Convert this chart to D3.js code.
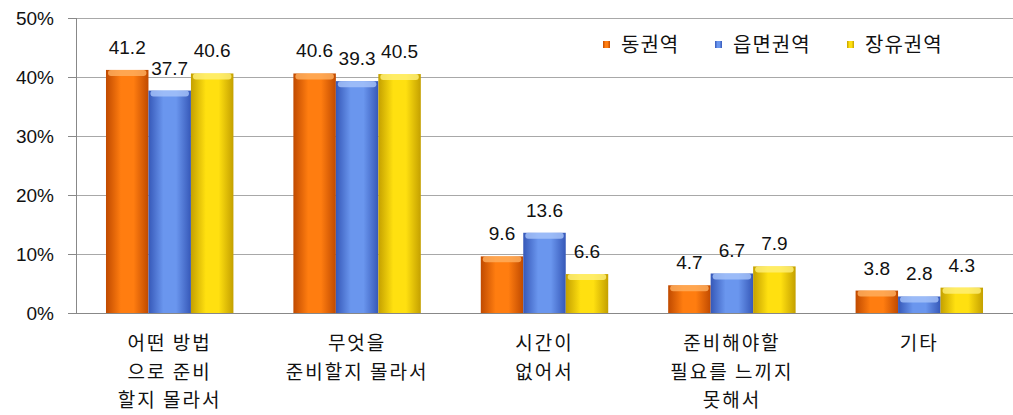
<!DOCTYPE html>
<html>
<head>
<meta charset="utf-8">
<style>
    body { margin: 0; background: #fff; }
    svg text { font-family: "Noto Sans CJK KR", sans-serif; fill: #111; }
    .axis path, .axis line { fill: none; stroke: #888; shape-rendering: crispEdges; }
    .grid line { stroke: #a8a8a8; shape-rendering: crispEdges; }
</style>
</head>
<body>
<div id="chart"></div>
<script src="https://cdn.jsdelivr.net/npm/d3@7"></script>
<script>
var categories = [
    ["어떤 방법", "으로 준비", "할지 몰라서"],
    ["무엇을", "준비할지 몰라서"],
    ["시간이", "없어서"],
    ["준비해야할", "필요를 느끼지", "못해서"],
    ["기타"]
];
var seriesNames = ["동권역", "읍면권역", "장유권역"];
var dong   = [41.2, 40.6, 9.6, 4.7, 3.8];
var eupmyeon = [37.7, 39.3, 13.6, 6.7, 2.8];
var jangyu = [40.6, 40.5, 6.6, 7.9, 4.3];
var yTicks = [0, 10, 20, 30, 40, 50];

var seriesValues = [dong, eupmyeon, jangyu];
var colors = [
    { mid: "#ff7d10", edge: "#c04a00", top: "#ffb060" },
    { mid: "#6a96ee", edge: "#3658b8", top: "#a8c4fa" },
    { mid: "#ffe010", edge: "#c4a000", top: "#fff07a" }
];

var width = 1013, height = 415;
var margin = { left: 76, top: 18, right: 0, bottom: 102 };
var plotW = width - margin.left - margin.right;
var plotH = height - margin.top - margin.bottom;

var svg = d3.select("#chart").append("svg")
    .attr("width", width)
    .attr("height", height);

// gradients for the cylinder look
var defs = svg.append("defs");
colors.forEach(function (c, i) {
    var g = defs.append("linearGradient").attr("id", "bar" + i)
        .attr("x1", "0%").attr("x2", "100%").attr("y1", "0%").attr("y2", "0%");
    g.append("stop").attr("offset", "0%").attr("stop-color", c.edge);
    g.append("stop").attr("offset", "35%").attr("stop-color", c.mid);
    g.append("stop").attr("offset", "65%").attr("stop-color", c.mid);
    g.append("stop").attr("offset", "100%").attr("stop-color", c.edge);
});

var g = svg.append("g").attr("transform", "translate(" + margin.left + "," + margin.top + ")");

var x0 = d3.scaleBand()
    .domain(d3.range(categories.length))
    .range([0, plotW])
    .paddingInner(0.32)
    .paddingOuter(0.16);

var x1 = d3.scaleBand()
    .domain(d3.range(seriesNames.length))
    .range([0, x0.bandwidth()]);

var y = d3.scaleLinear().domain([0, 50]).range([plotH, 0]);

// gridlines
g.append("g").attr("class", "grid")
    .selectAll("line").data(yTicks.slice(1))
    .enter().append("line")
    .attr("x1", 0).attr("x2", plotW)
    .attr("y1", function (d) { return Math.round(y(d)) + 0.5; })
    .attr("y2", function (d) { return Math.round(y(d)) + 0.5; });

// y axis
var yAxis = d3.axisLeft(y)
    .tickValues(yTicks)
    .tickSize(8)
    .tickPadding(14)
    .tickFormat(function (d) { return d + "%"; });

var ya = g.append("g").attr("class", "axis").call(yAxis);
ya.selectAll("text").style("font-size", "19px").style("font-family", "'Liberation Sans', sans-serif");

// bottom baseline
g.append("line")
    .attr("x1", -8).attr("x2", plotW)
    .attr("y1", plotH + 0.5).attr("y2", plotH + 0.5)
    .attr("stroke", "#888");

// bars
var groups = g.selectAll(".cat")
    .data(categories.map(function (c, i) { return i; }))
    .enter().append("g")
    .attr("transform", function (i) { return "translate(" + x0(i) + ",0)"; });

groups.selectAll("rect.bar")
    .data(function (i) { return seriesValues.map(function (s, k) { return { k: k, v: s[i] }; }); })
    .enter().append("rect")
    .attr("class", "bar")
    .attr("x", function (d) { return x1(d.k); })
    .attr("y", function (d) { return y(d.v); })
    .attr("width", x1.bandwidth())
    .attr("height", function (d) { return y(0) - y(d.v); })
    .attr("fill", function (d) { return "url(#bar" + d.k + ")"; });

// lighter cap on top of each bar
groups.selectAll("rect.cap")
    .data(function (i) { return seriesValues.map(function (s, k) { return { k: k, v: s[i] }; }); })
    .enter().append("rect")
    .attr("class", "cap")
    .attr("x", function (d) { return x1(d.k) + 2; })
    .attr("y", function (d) { return y(d.v); })
    .attr("width", x1.bandwidth() - 4)
    .attr("height", 6)
    .attr("rx", 3)
    .attr("fill", function (d) { return colors[d.k].top; })
    .attr("opacity", 0.8);

// value labels
groups.selectAll("text.val")
    .data(function (i) { return seriesValues.map(function (s, k) { return { k: k, v: s[i] }; }); })
    .enter().append("text")
    .attr("class", "val")
    .attr("x", function (d) { return x1(d.k) + x1.bandwidth() / 2; })
    .attr("y", function (d) { return y(d.v) - 16; })
    .attr("text-anchor", "middle")
    .style("font-size", "19px")
    .style("font-family", "'Liberation Sans', sans-serif")
    .text(function (d) { return d3.format(".1f")(d.v); });

// category labels
var catLabels = g.selectAll(".catlab")
    .data(categories)
    .enter().append("text")
    .attr("class", "catlab")
    .attr("text-anchor", "middle")
    .attr("transform", function (d, i) { return "translate(" + (x0(i) + x0.bandwidth() / 2) + "," + (plotH + 37) + ")"; })
    .style("font-size", "19px")
    .style("letter-spacing", "2px");

catLabels.selectAll("tspan")
    .data(function (d) { return d; })
    .enter().append("tspan")
    .attr("x", 0)
    .attr("y", function (d, i) { return i * 28.5; })
    .text(function (d) { return d; });

// legend
var legendX = [603, 715, 847];
var legend = svg.append("g").attr("transform", "translate(0,45)");
seriesNames.forEach(function (name, k) {
    legend.append("rect")
        .attr("x", legendX[k]).attr("y", -4)
        .attr("width", 7).attr("height", 7)
        .attr("fill", "url(#bar" + k + ")");
    legend.append("text")
        .attr("x", legendX[k] + 18).attr("y", 7)
        .style("font-size", "20px")
        .style("letter-spacing", "1px")
        .text(name);
});
</script>
</body>
</html>
